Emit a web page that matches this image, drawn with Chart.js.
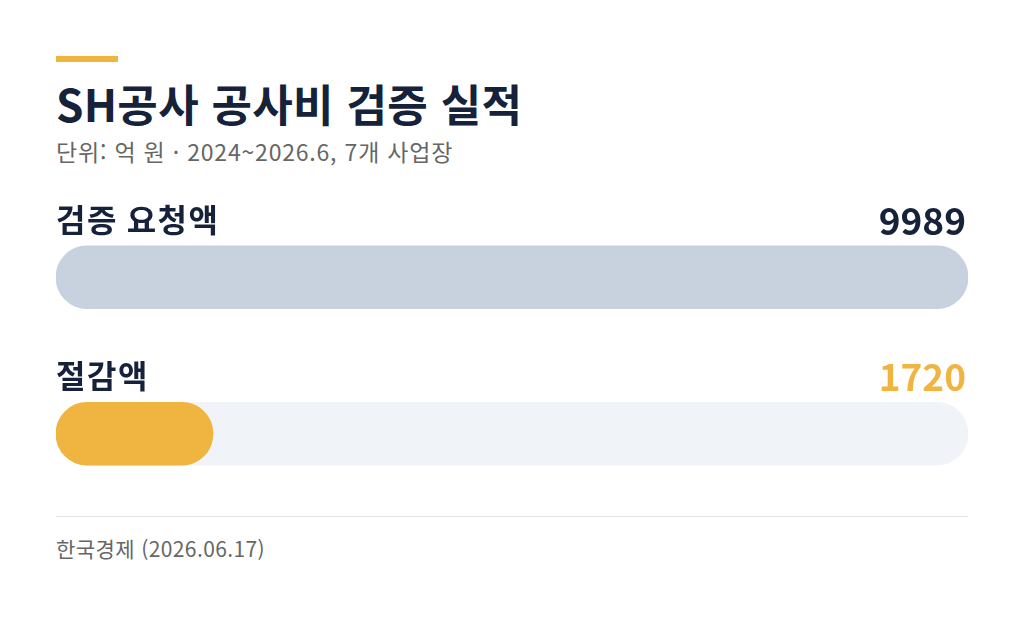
<!DOCTYPE html>
<html lang="ko">
<head>
<meta charset="utf-8">
<script src="https://cdn.jsdelivr.net/npm/chart.js@4/dist/chart.umd.min.js"></script>
<style>
  html, body { margin: 0; padding: 0; background: #fff; }
  body { width: 1024px; height: 617px; position: relative; overflow: hidden;
         font-family: "Noto Sans CJK KR", "Noto Sans", sans-serif; }
  .accent { position: absolute; left: 56px; top: 56px; width: 62px; height: 6px; background: #f0b440; }
  .title { position: absolute; left: 56px; top: 77px; margin: 0; font-size: 44px; font-weight: 700;
           color: #16213a; letter-spacing: 0.3px; line-height: 1.2; white-space: nowrap; }
  .sub { position: absolute; left: 56px; top: 137px; font-size: 23px; color: #666; line-height: 1.3;
         letter-spacing: 0.8px; white-space: nowrap; }
  .wrap { position: absolute; left: 56px; top: 199px; width: 912px; height: 313px; }
  .rule { position: absolute; left: 56px; top: 516px; width: 912px; height: 1px; background: #e2e4e8; }
  .src { position: absolute; left: 56px; top: 535px; font-size: 21px; color: #666; line-height: 1.3;
         letter-spacing: 0.4px; white-space: nowrap; }
</style>
</head>
<body>
<div class="accent"></div>
<h1 class="title">SH공사 공사비 검증 실적</h1>
<div class="sub">단위: 억 원 · 2024~2026.6, 7개 사업장</div>
<div class="wrap"><canvas id="bars"></canvas></div>
<div class="rule"></div>
<div class="src">한국경제 (2026.06.17)</div>
<script>
const categories = ['검증 요청액', '절감액'];
const amounts = [9989, 1720];
const valueLabels = ['9989', '1720'];
const scaleMax = 9989;

const barColors = ['#c8d2df', '#f0b440'];
const valueColors = ['#16213a', '#f0b440'];

// labels above each bar, value right aligned
const labelPlugin = {
  id: 'bar_labels',
  afterDatasetsDraw: (chart) => {
    const ctx = chart.ctx;
    const meta = chart.getDatasetMeta(0);
    const area = chart.chartArea;
    ctx.save();
    meta.data.forEach((bar, i) => {
      const top = bar.y - bar.height / 2;
      ctx.textBaseline = 'alphabetic';
      ctx.fillStyle = '#16213a';
      ctx.textAlign = 'left';
      ctx.letterSpacing = '1.5px';
      ctx.font = '700 32px "Noto Sans CJK KR"';
      ctx.fillText(categories[i], area.left, top - 14);
      ctx.fillStyle = valueColors[i];
      ctx.textAlign = 'right';
      ctx.letterSpacing = '0px';
      ctx.font = '700 37px "Noto Sans CJK KR"';
      ctx.fillText(valueLabels[i], area.right - 2, top - 11);
    });
    ctx.restore();
  }
};

new Chart(document.getElementById('bars'), {
  type: 'bar',
  data: {
    labels: categories,
    datasets: [{
      label: 'value',
      data: amounts,
      backgroundColor: barColors,
      borderRadius: 32,
      borderSkipped: false,
      barThickness: 63,
      grouped: false,
      order: 1,
    },
    {
      label: 'track',
      data: categories.map(() => scaleMax),
      backgroundColor: '#f0f3f8',
      borderRadius: 32,
      borderSkipped: false,
      barThickness: 63,
      grouped: false,
      order: 2,
    }]
  },
  plugins: [labelPlugin],
  options: {
    indexAxis: 'y',
    responsive: true,
    maintainAspectRatio: false,
    animation: false,
    layout: { padding: 0 },
    plugins: { legend: { display: false }, tooltip: { enabled: false } },
    scales: {
      x: { display: false, min: 0, max: scaleMax },
      y: { display: false }
    }
  }
});
</script>
</body>
</html>
